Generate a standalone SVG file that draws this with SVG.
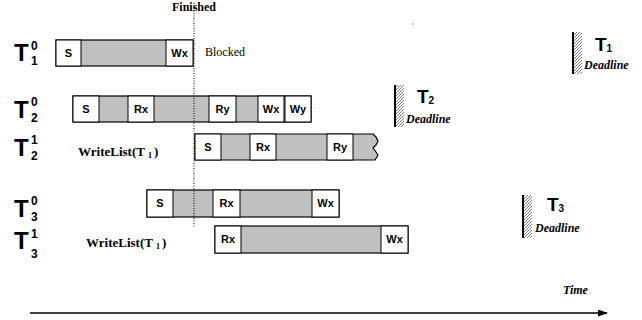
<svg xmlns="http://www.w3.org/2000/svg" width="642" height="320" viewBox="0 0 642 320">
<defs>
  <pattern id="hatch" patternUnits="userSpaceOnUse" width="3" height="3">
    <path d="M-1,1 L1,-1 M0,3 L3,0 M2,4 L4,2" stroke="#222" stroke-width="0.6"/>
  </pattern>
  <marker id="arrow" markerWidth="10" markerHeight="7" refX="9" refY="3.5" orient="auto" markerUnits="userSpaceOnUse">
    <path d="M0,0 L10,3.5 L0,7 Z" fill="#000"/>
  </marker>
</defs>
<style>
  .bar { fill: #c0c0c0; stroke: #000; stroke-width: 1.2; }
  .box { fill: #fff; stroke: #000; stroke-width: 1; }
  .bt { font-family: "Liberation Sans", Arial, sans-serif; font-weight: bold; font-size: 11px; text-anchor: middle; fill: #000; }
  .lab { font-family: "Liberation Sans", Arial, sans-serif; font-weight: bold; fill: #000; }
  .ser { font-family: "Liberation Serif", "Times New Roman", serif; fill: #000; }
  .dl { font-family: "Liberation Serif", "Times New Roman", serif; font-weight: bold; font-style: italic; font-size: 12px; fill: #000; }
  .dline { stroke: #000; stroke-width: 2; }
</style>
<rect width="642" height="320" fill="#fff"/>

<!-- Row labels -->
<g id="label-T1-0" class="lab"><text x="14" y="61" font-size="24">T</text><text x="31" y="50" font-size="12">0</text><text x="31" y="65" font-size="12">1</text></g>
<g id="label-T2-0" class="lab"><text x="14" y="118" font-size="24">T</text><text x="31" y="106" font-size="12">0</text><text x="31" y="122" font-size="12">2</text></g>
<g id="label-T2-1" class="lab"><text x="14" y="156" font-size="24">T</text><text x="31" y="144" font-size="12">1</text><text x="31" y="160" font-size="12">2</text></g>
<g id="label-T3-0" class="lab"><text x="14" y="217" font-size="24">T</text><text x="31" y="205" font-size="12">0</text><text x="31" y="221" font-size="12">3</text></g>
<g id="label-T3-1" class="lab"><text x="14" y="249" font-size="24">T</text><text x="31" y="238" font-size="12">1</text><text x="31" y="258" font-size="12">3</text></g>

<!-- T1^0 -->
<g id="bar-T1-0">
  <rect class="bar" x="56" y="40" width="137" height="26"/>
  <rect class="box" x="56" y="40" width="25" height="26"/><text class="bt" x="68.5" y="57">S</text>
  <rect class="box" x="166" y="40" width="27" height="26"/><text class="bt" x="179.5" y="57">Wx</text>
</g>

<!-- T2^0 -->
<g id="bar-T2-0">
  <rect class="bar" x="73" y="96" width="238" height="26"/>
  <rect class="box" x="73" y="96" width="26" height="26"/><text class="bt" x="86" y="113">S</text>
  <rect class="box" x="128" y="96" width="26" height="26"/><text class="bt" x="141" y="113">Rx</text>
  <rect class="box" x="209" y="96" width="27" height="26"/><text class="bt" x="222.5" y="113">Ry</text>
  <rect class="box" x="258" y="96" width="26" height="26"/><text class="bt" x="271" y="113">Wx</text>
  <rect class="box" x="285" y="96" width="26" height="26"/><text class="bt" x="298" y="113">Wy</text>
</g>

<!-- T2^1 -->
<g id="bar-T2-1">
  <path class="bar" d="M195,134 L373,134 L376,137 L378,141 L376,145 L373,148 L376,152 L378,155 L375,160 L195,160 Z" stroke-linejoin="round"/>
  <rect class="box" x="195" y="134" width="26" height="26"/><text class="bt" x="208" y="151">S</text>
  <rect class="box" x="250" y="134" width="26" height="26"/><text class="bt" x="263" y="151">Rx</text>
  <rect class="box" x="327" y="134" width="26" height="26"/><text class="bt" x="340" y="151">Ry</text>
</g>
<text id="writelist-1" class="ser" x="78" y="156" font-size="13" font-weight="bold">WriteList(T<tspan dx="3" dy="2" font-size="8">1</tspan><tspan dx="2" dy="-2">)</tspan></text>

<!-- T3^0 -->
<g id="bar-T3-0">
  <rect class="bar" x="147" y="190" width="192" height="27"/>
  <rect class="box" x="147" y="190" width="26" height="27"/><text class="bt" x="160" y="207">S</text>
  <rect class="box" x="213" y="190" width="27" height="27"/><text class="bt" x="226.5" y="207">Rx</text>
  <rect class="box" x="312" y="190" width="27" height="27"/><text class="bt" x="325.5" y="207">Wx</text>
</g>

<!-- T3^1 -->
<g id="bar-T3-1">
  <rect class="bar" x="215" y="226" width="193" height="27"/>
  <rect class="box" x="215" y="226" width="26" height="27"/><text class="bt" x="228" y="243">Rx</text>
  <rect class="box" x="381" y="226" width="27" height="27"/><text class="bt" x="394.5" y="243">Wx</text>
</g>
<text id="writelist-2" class="ser" x="86" y="247" font-size="13" font-weight="bold">WriteList(T<tspan dx="3" dy="2" font-size="8">1</tspan><tspan dx="2" dy="-2">)</tspan></text>

<!-- Finished marker -->
<g id="finished">
  <line x1="194" y1="3" x2="194" y2="228" stroke="#000" stroke-width="1" stroke-dasharray="1,1.5"/>
  <text class="ser" x="172" y="11" font-size="12" font-weight="bold">Finished</text>
</g>
<text id="blocked" class="ser" x="205" y="56" font-size="12">Blocked</text>

<rect x="412" y="23.5" width="2" height="1" fill="#999"/>

<!-- Deadlines -->
<g id="deadline-T1">
  <rect x="573" y="32" width="9" height="42" fill="url(#hatch)"/>
  <line class="dline" x1="573" y1="32" x2="573" y2="74"/>
  <text class="lab" x="595" y="51" font-size="19">T<tspan font-size="10" dy="1">1</tspan></text>
  <text class="dl" x="584" y="69">Deadline</text>
</g>
<g id="deadline-T2">
  <rect x="395" y="85" width="9" height="42" fill="url(#hatch)"/>
  <line class="dline" x1="395" y1="85" x2="395" y2="127"/>
  <text class="lab" x="417" y="103" font-size="19">T<tspan font-size="10" dy="1">2</tspan></text>
  <text class="dl" x="406" y="123">Deadline</text>
</g>
<g id="deadline-T3">
  <rect x="523" y="195" width="9" height="43" fill="url(#hatch)"/>
  <line class="dline" x1="523" y1="195" x2="523" y2="238"/>
  <text class="lab" x="547" y="211" font-size="19">T<tspan font-size="10" dy="1">3</tspan></text>
  <text class="dl" x="535" y="232">Deadline</text>
</g>

<!-- Time axis -->
<g id="connectors">
  <line x1="30" y1="313" x2="607" y2="313" stroke="#000" stroke-width="1.5" marker-end="url(#arrow)"/>
</g>
<text id="time" class="dl" x="563" y="294">Time</text>
</svg>
